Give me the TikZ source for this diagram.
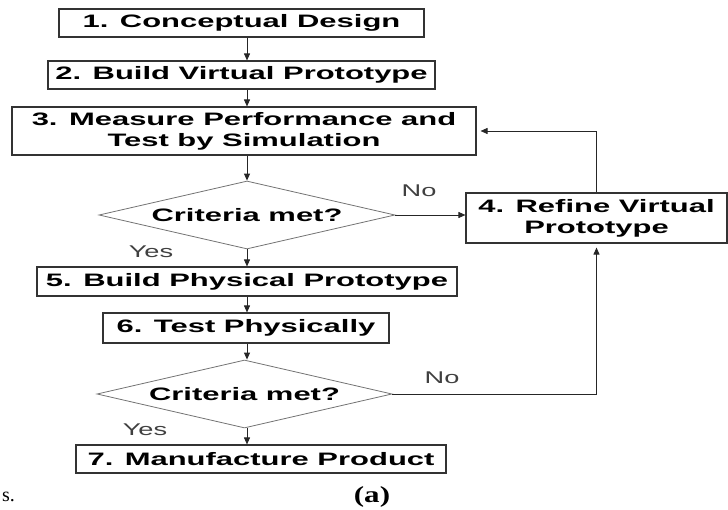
\documentclass[tikz,border=0pt]{standalone}
\usepackage{fontspec}
\usetikzlibrary{arrows.meta,shapes.geometric}
\newfontfamily\boxfont[FakeStretch=1.72]{Liberation Sans}
\newfontfamily\lblfont[FakeStretch=1.6]{Liberation Sans}
\newfontfamily\capfont[FakeStretch=1.35]{Liberation Serif}
\newfontfamily\bodyfont{Liberation Serif}
\begin{document}
\begin{tikzpicture}[x=1pt,y=-1pt,
  stepbox/.style={draw=black!80,line width=1.1pt,rectangle,inner sep=0pt,align=center,
    font=\boxfont\bfseries\fontsize{18}{21}\selectfont},
  decision/.style={draw=black!55,line width=0.8pt,diamond,inner sep=0pt,aspect=4.35,
    font=\boxfont\bfseries\fontsize{18}{21}\selectfont},
  flow/.style={draw=black!85,line width=0.9pt,-{Triangle[length=7pt,width=6pt]}},
  lbl/.style={font=\lblfont\fontsize{17}{20}\selectfont,text=black!75,inner sep=0pt}]
\useasboundingbox (0,0) rectangle (728,510);
\node[stepbox,minimum width=365pt,minimum height=28pt] (b1) at (241.5,23) {1. Conceptual Design};
\node[stepbox,minimum width=387pt,minimum height=28pt] (b2) at (241.5,75) {2. Build Virtual Prototype};
\node[stepbox,minimum width=464pt,minimum height=48pt] (b3) at (244,131) {3. Measure Performance and\\Test by Simulation};
\node[decision,minimum width=296pt,minimum height=68pt] (d1) at (247,215) {Criteria met?};
\node[stepbox,minimum width=261pt,minimum height=50pt] (b4) at (596.5,218) {4. Refine Virtual\\Prototype};
\node[stepbox,minimum width=420pt,minimum height=29pt] (b5) at (247,281.5) {5. Build Physical Prototype};
\node[stepbox,minimum width=286pt,minimum height=30pt] (b6) at (246,328) {6. Test Physically};
\node[decision,minimum width=295pt,minimum height=68pt] (d2) at (244.5,394) {Criteria met?};
\node[stepbox,minimum width=370pt,minimum height=28pt] (b7) at (261,459) {7. Manufacture Product};
\node[lbl] (no1) at (419,191) {No};
\node[lbl] (no2) at (442,378) {No};
\node[lbl] (yes1) at (151,252) {Yes};
\node[lbl] (yes2) at (145,430) {Yes};
\node[font=\capfont\bfseries\fontsize{23}{26}\selectfont,inner sep=0pt] (cap) at (372,497) {(a)};
\node[font=\bodyfont\fontsize{20}{24}\selectfont,inner sep=0pt,anchor=west] (frag) at (2,497) {s.};
\coordinate (cx) at (247,0);
\draw[flow] (b1.south -| cx) -- (b2.north -| cx);
\draw[flow] (b2.south -| cx) -- (b3.north -| cx);
\draw[flow] (b3.south -| cx) -- (d1.north);
\draw[flow] (d1.south) -- (b5.north -| d1.south);
\draw[flow] (b5.south -| cx) -- (b6.north -| cx);
\draw[flow] (b6.south -| cx) -- (d2.north -| cx);
\draw[flow] (d2.south -| cx) -- (b7.north -| cx);
\draw[flow] (d1.east) -- (d1.east -| b4.west);
\draw[flow,shorten >=4pt] (b4.north) |- (b3.east);
\draw[flow,shorten >=4pt] (d2.east) -| (b4.south);
\end{tikzpicture}
\end{document}
